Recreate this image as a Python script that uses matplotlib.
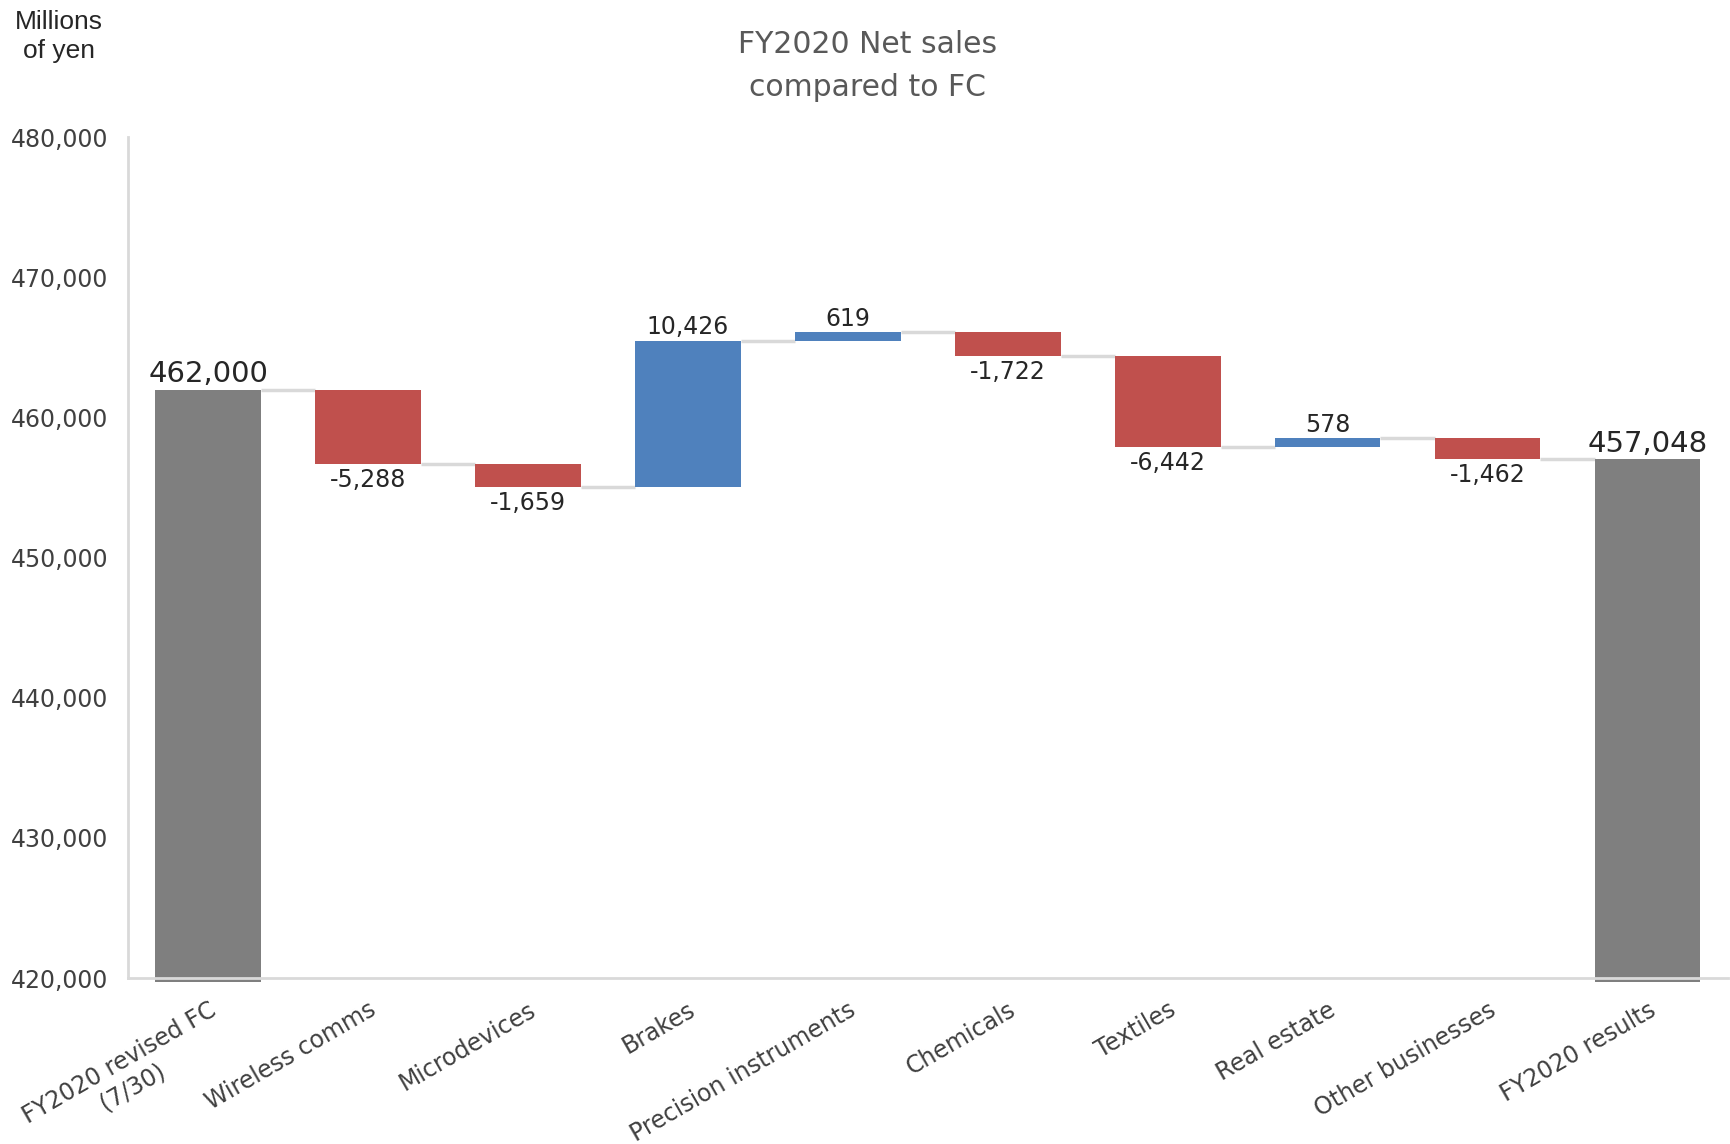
import numpy as np
import matplotlib.pyplot as plt
from matplotlib.ticker import FuncFormatter


# ====================================
# Data
# ====================================

categories = [
    "FY2020 revised FC\n(7/30)",
    "Wireless comms",
    "Microdevices",
    "Brakes",
    "Precision instruments",
    "Chemicals",
    "Textiles",
    "Real estate",
    "Other businesses",
    "FY2020 results"
]

start_value = 462000
changes = [-5288, -1659, 10426, 619, -1722, -6442, 578, -1462]
end_value = 457048

y_ticks = [420000, 430000, 440000, 450000, 460000, 470000, 480000]


# ====================================
# Colours / layout
# ====================================

GRAY = "#7f7f7f"
RED = "#c0504d"
BLUE = "#4f81bd"
LINE = "#d9d9d9"
TEXT = "#262626"
TICK_TEXT = "#404040"

bar_width = 0.66
y_min = 420000


# ====================================
# Running totals
# ====================================

changes = np.array(changes)
after = start_value + np.cumsum(changes)
before = np.concatenate([[start_value], after[:-1]])
totals = np.concatenate([[start_value], after])

x = np.arange(len(categories))


# ====================================
# Figure
# ====================================

fig = plt.figure(figsize=(17.31, 11.44), dpi=100)
ax = fig.add_axes([0.074, 0.145, 0.924, 0.735])

# first and last total bars (run slightly past the axis line, as in the original)
floor = y_min - 300
ax.bar(x[0], start_value - floor, bottom=floor, width=bar_width,
       color=GRAY, zorder=2, clip_on=False)
ax.bar(x[-1], end_value - floor, bottom=floor, width=bar_width,
       color=GRAY, zorder=2, clip_on=False)

# change bars
bar_colors = [BLUE if c > 0 else RED for c in changes]
ax.bar(
    x[1:-1],
    np.abs(changes),
    bottom=np.minimum(before, after),
    width=bar_width,
    color=bar_colors,
    zorder=2
)

# connector lines
for i in range(len(categories) - 1):
    ax.hlines(
        totals[i],
        x[i] + bar_width / 2,
        x[i + 1] - bar_width / 2,
        color=LINE,
        linewidth=2.5,
        zorder=1
    )


# ====================================
# Value labels
# ====================================

for xi, v in [(x[0], start_value), (x[-1], end_value)]:
    ax.annotate(
        f"{v:,}",
        xy=(xi, v),
        xytext=(0, 1),
        textcoords="offset points",
        ha="center",
        va="bottom",
        fontsize=21,
        color=TEXT
    )

for xi, c, a in zip(x[1:-1], changes, after):
    if c > 0:
        ax.annotate(
            f"{c:,}",
            xy=(xi, a),
            xytext=(0, 1),
            textcoords="offset points",
            ha="center",
            va="bottom",
            fontsize=17,
            color=TEXT
        )
    else:
        ax.annotate(
            f"{c:,}",
            xy=(xi, a),
            xytext=(0, -3),
            textcoords="offset points",
            ha="center",
            va="top",
            fontsize=17,
            color=TEXT
        )


# ====================================
# Axes styling
# ====================================

ax.set_xlim(-0.5, len(categories) - 0.5)
ax.set_ylim(y_min, 480000)

ax.set_yticks(y_ticks)
ax.yaxis.set_major_formatter(FuncFormatter(lambda v, p: f"{int(v):,}"))

ax.set_xticks(x)
ax.set_xticklabels(
    categories,
    rotation=30,
    ha="right",
    rotation_mode="anchor",
    multialignment="center"
)

ax.tick_params(axis="x", length=0, pad=14, labelsize=17, labelcolor=TICK_TEXT)
ax.tick_params(axis="y", length=0, pad=14, labelsize=17, labelcolor=TICK_TEXT)

for side in ["top", "right"]:
    ax.spines[side].set_visible(False)

for side in ["left", "bottom"]:
    ax.spines[side].set_color(LINE)
    ax.spines[side].set_linewidth(2)
    ax.spines[side].set_zorder(3)


# ====================================
# Titles
# ====================================

fig.text(
    0.501,
    0.942,
    "FY2020 Net sales\ncompared to FC",
    ha="center",
    va="center",
    fontsize=21.5,
    color="#595959",
    linespacing=1.6
)

fig.text(
    0.034,
    0.968,
    "Millions\nof yen",
    ha="center",
    va="center",
    fontsize=19,
    color="#262626",
    family="Liberation Sans",
    linespacing=1.3
)


fig.savefig("out.png", dpi=100)
